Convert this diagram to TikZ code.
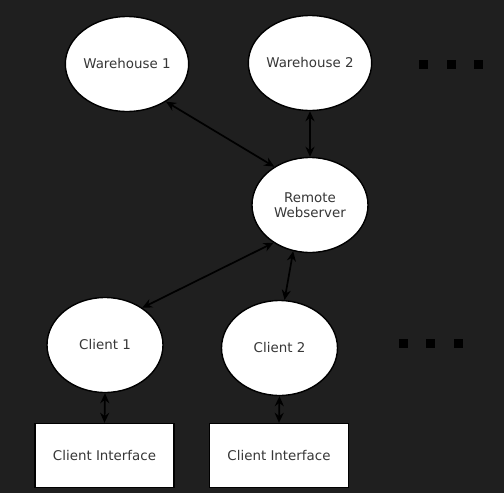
\documentclass[tikz,border=0pt]{standalone}
\usepackage{fontspec}
\setsansfont{DejaVu Sans}
\usepackage{tikz}
\usetikzlibrary{arrows.meta,shapes.geometric}
\definecolor{bgdark}{RGB}{31,31,31}
\definecolor{labelgray}{RGB}{55,55,55}

\begin{document}
\begin{tikzpicture}[x=1pt,y=-1pt,
    every node/.style={font=\sffamily\fontsize{13.4}{15}\selectfont,text=labelgray},
    site/.style={ellipse,draw=black,fill=white,line width=1.4pt,minimum width=116pt,minimum height=95pt,inner sep=0pt,align=center},
    uibox/.style={rectangle,draw=black,fill=white,line width=1.4pt,minimum width=139pt,minimum height=64pt,inner sep=0pt},
    link/.style={black,line width=1.7pt,{Stealth[length=10pt,width=9pt]}-{Stealth[length=10pt,width=9pt]}}]
      \fill[bgdark] (0,0) rectangle (504,493);
      \node[site] (wh1) at (127,64) {Warehouse 1};
      \node[site] (wh2) at (310,63) {Warehouse 2};
      \node[site] (web) at (310,205) {Remote\\Webserver};
      \node[site] (cl1) at (105,345) {Client 1};
      \node[site] (cl2) at (279.5,348) {Client 2};
      \node[uibox] (ui1) at (104.5,455.5) {Client Interface};
      \node[uibox] (ui2) at (279,455.5) {Client Interface};
      \draw[link] (wh1.316) -- (web.133);
      \draw[link] (wh2.south) -- (web.north);
      \draw[link] (web.226) -- (cl1.45);
      \draw[link] (web.250) -- (cl2.84);
      \draw[link] (cl1.south) -- (ui1.north);
      \draw[link] (cl2.south) -- (ui2.north);
      \foreach \x in {423,451,478} \fill[black] (\x-4.5,59.5) rectangle (\x+4.5,68.5);
      \foreach \x in {403,430,458} \fill[black] (\x-4.5,338.5) rectangle (\x+4.5,347.5);
    \end{tikzpicture}
\end{document}
